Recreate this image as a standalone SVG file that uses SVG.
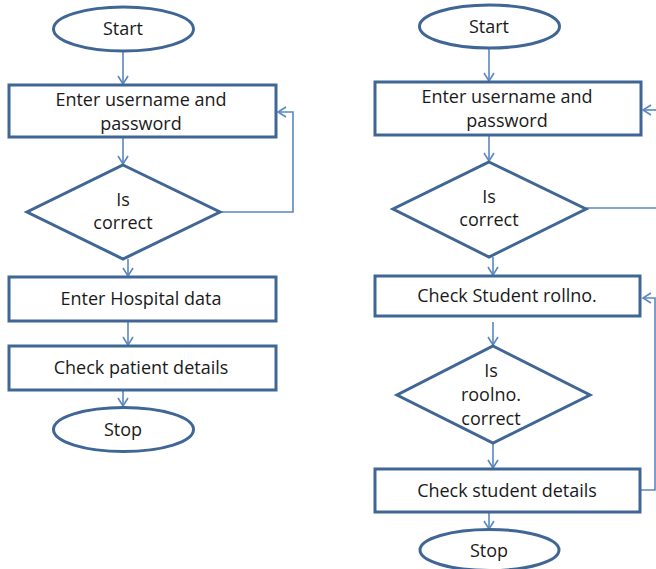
<svg xmlns="http://www.w3.org/2000/svg" width="656" height="569" viewBox="0 0 656 569">
<style>
.n{fill:#fff;stroke:#3f6695;stroke-width:3}
.t{font-family:"Open Sans","Liberation Sans",sans-serif;font-size:18px;fill:#1a1a1a;text-anchor:middle}
.c{fill:none;stroke:#5b87c0;stroke-width:1.6}
</style>
<defs>
<marker id="a" markerWidth="12" markerHeight="12" refX="10" refY="6" orient="auto" markerUnits="userSpaceOnUse">
<path d="M2,1 L10,6 L2,11" fill="none" stroke="#5b87c0" stroke-width="1.6"/>
</marker>
</defs>
<rect width="656" height="569" fill="#fff"/>
<g id="connectors">
<line class="c" x1="123" y1="51" x2="123" y2="84" marker-end="url(#a)"/>
<line class="c" x1="123" y1="137" x2="123" y2="164" marker-end="url(#a)"/>
<polyline class="c" points="220,212 293,212 293,112 278,112" marker-end="url(#a)"/>
<line class="c" x1="128" y1="259" x2="128" y2="276" marker-end="url(#a)"/>
<line class="c" x1="128" y1="313" x2="128" y2="345" marker-end="url(#a)"/>
<line class="c" x1="123" y1="390" x2="123" y2="406" marker-end="url(#a)"/>
<line class="c" x1="489" y1="48" x2="489" y2="81" marker-end="url(#a)"/>
<line class="c" x1="489" y1="135" x2="489" y2="161" marker-end="url(#a)"/>
<line class="c" x1="586" y1="208" x2="656" y2="208"/>
<line class="c" x1="656" y1="110" x2="643" y2="110" marker-end="url(#a)"/>
<line class="c" x1="493" y1="257" x2="493" y2="275" marker-end="url(#a)"/>
<line class="c" x1="493" y1="322" x2="493" y2="345" marker-end="url(#a)"/>
<line class="c" x1="493" y1="443" x2="493" y2="468" marker-end="url(#a)"/>
<polyline class="c" points="641,490 655,490 655,298 643,298" marker-end="url(#a)"/>
<line class="c" x1="489" y1="512" x2="489" y2="529" marker-end="url(#a)"/>
</g>
<g id="l-start"><ellipse class="n" cx="123.5" cy="29" rx="70" ry="22"/><text class="t" x="123" y="35">Start</text></g>
<g id="l-login"><rect class="n" x="9" y="85" width="267" height="52"/><text class="t" x="141" y="106">Enter username and</text><text class="t" x="141" y="130">password</text></g>
<g id="l-check"><polygon class="n" points="123,165 220,212 123,259 27,212"/><text class="t" x="123" y="206">Is</text><text class="t" x="123" y="229">correct</text></g>
<g id="l-hospital"><rect class="n" x="9" y="277" width="267" height="44"/><text class="t" x="141" y="305">Enter Hospital data</text></g>
<g id="l-patient"><rect class="n" x="9" y="346" width="267" height="44"/><text class="t" x="141" y="374">Check patient details</text></g>
<g id="l-stop"><ellipse class="n" cx="123.5" cy="429.5" rx="70" ry="22"/><text class="t" x="123" y="436">Stop</text></g>
<g id="r-start"><ellipse class="n" cx="489.5" cy="26.5" rx="70" ry="21.5"/><text class="t" x="489" y="33">Start</text></g>
<g id="r-login"><rect class="n" x="375" y="82" width="266" height="53"/><text class="t" x="507" y="103">Enter username and</text><text class="t" x="507" y="127">password</text></g>
<g id="r-check"><polygon class="n" points="489,162 586,209 489,257 393,209"/><text class="t" x="489" y="203">Is</text><text class="t" x="489" y="226">correct</text></g>
<g id="r-roll"><rect class="n" x="375" y="276" width="265" height="40"/><text class="t" x="507" y="302">Check Student rollno.</text></g>
<g id="r-rollcheck"><polygon class="n" points="493,346 590,395 493,443 397,395"/><text class="t" x="491" y="377">Is</text><text class="t" x="491" y="401">roolno.</text><text class="t" x="491" y="425">correct</text></g>
<g id="r-details"><rect class="n" x="375" y="469" width="265" height="43"/><text class="t" x="507" y="497">Check student details</text></g>
<g id="r-stop"><ellipse class="n" cx="489.5" cy="550" rx="69.5" ry="20.5"/><text class="t" x="489" y="557">Stop</text></g>
</svg>
